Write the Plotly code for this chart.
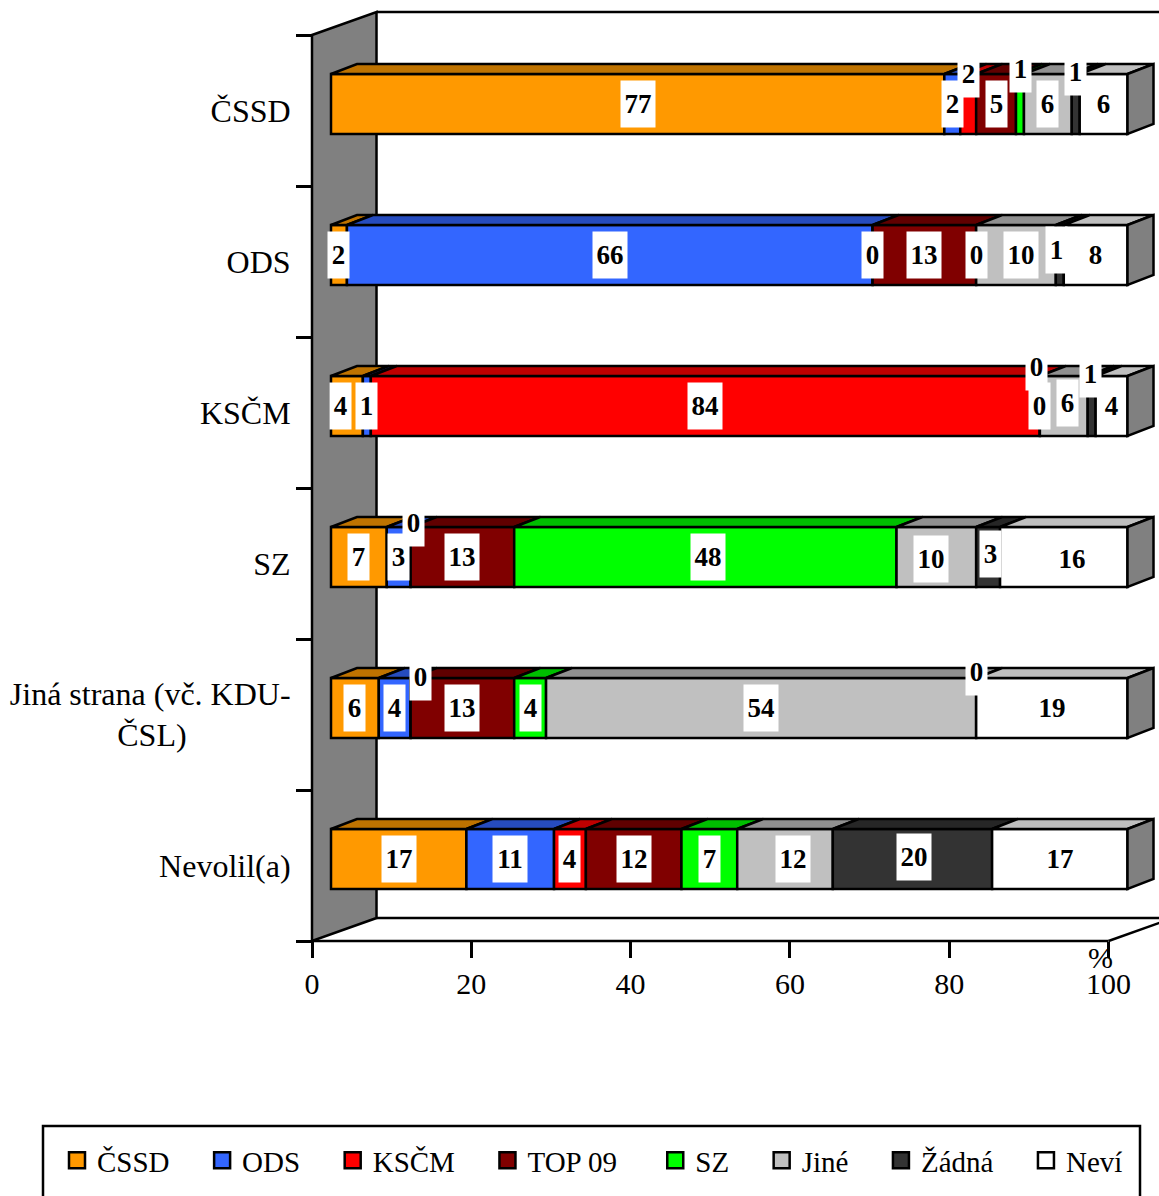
import plotly.graph_objects as go

categories = ["ČSSD", "ODS", "KSČM", "SZ", "Jiná strana (vč. KDU-<br>ČSL)" + "\u00a0" * 13, "Nevolil(a)"]
series_names = ["ČSSD", "ODS", "KSČM", "TOP 09", "SZ", "Jiné", "Žádná", "Neví"]

cssd = [77, 2, 4, 7, 6, 17]
ods = [2, 66, 1, 3, 4, 11]
kscm = [2, 0, 84, 0, 0, 4]
top09 = [5, 13, 0, 13, 13, 12]
sz = [1, 0, 0, 48, 4, 7]
jine = [6, 10, 6, 10, 54, 12]
zadna = [1, 1, 1, 3, 0, 20]
nevi = [6, 8, 4, 16, 19, 17]
series_values = [cssd, ods, kscm, top09, sz, jine, zadna, nevi]

front_colors = ["#FF9900", "#3366FF", "#FF0000", "#800000", "#00FF00", "#C0C0C0", "#333333", "#FFFFFF"]
top_colors = ["#BF7300", "#264CBF", "#BF0000", "#600000", "#00BF00", "#909090", "#262626", "#BFBFBF"]
WALL = "#808080"

# chart geometry (pixels of the 1159x1196 page)
W, H = 1159, 1196
PX_X0, PX_Y_TOP, PX_Y_BOT = 312, 35, 941
PX_PER_UNIT = 7.965
PX_PER_BAND = (PX_Y_BOT - PX_Y_TOP) / 6
n_rows = len(categories)
LW = 2.5


def ux(px):
    return px / PX_PER_UNIT


def uy(px):
    return px / PX_PER_BAND


BAR_SHIFT = ux(19)            # front plane of bars vs the axis plane
BAR_OFFSET, BAR_WIDTH = -0.242, 0.397
DEPTH_X, DEPTH_Y = ux(26), uy(10)
WALL_X, WALL_Y = ux(64.5), uy(23)

# labels that are moved off their segment centre, (row, series): (dx, dy) pixels, dy up
label_nudge = {
    (0, 2): (0, 30), (0, 4): (1, 35), (0, 6): (0, 32),
    (1, 5): (5, 0), (1, 6): (-3, 5),
    (2, 0): (-6, 0), (2, 3): (-3, 39), (2, 5): (4, 3), (2, 6): (-1, 32),
    (3, 2): (3, 34), (3, 4): (3, 0), (3, 6): (2, 3), (3, 5): (-5, -2), (3, 7): (8, -2),
    (4, 2): (10, 31), (4, 6): (0, 36),
    (5, 5): (8, 0), (5, 6): (2, 2),
}

fig = go.Figure()
annotations = []
label_font = dict(family="Liberation Serif", size=27, color="#000000")

# running starts of every segment
starts = []
running = [0] * n_rows
for values in series_values:
    starts.append(list(running))
    running = [r + v for r, v in zip(running, values)]

for s, (name, values) in enumerate(zip(series_names, series_values)):
    base = [b + BAR_SHIFT for b in starts[s]]
    fig.add_trace(go.Bar(
        orientation="h", y=[i + 0.5 for i in range(n_rows)], x=values, base=base,
        offset=BAR_OFFSET, width=BAR_WIDTH, showlegend=False, hoverinfo="skip",
        marker=dict(color=front_colors[s], line=dict(color="#000000", width=LW)),
    ))

for s, (name, values) in enumerate(zip(series_names, series_values)):
    xs, ys = [], []
    for i, v in enumerate(values):
        if v <= 0:
            continue
        a = starts[s][i] + BAR_SHIFT
        b = a + v
        top = i + 0.5 + BAR_OFFSET
        xs += [a, b, b + DEPTH_X, a + DEPTH_X, a, None]
        ys += [top, top, top - DEPTH_Y, top - DEPTH_Y, top, None]
    fig.add_trace(go.Scatter(
        x=xs, y=ys, mode="lines", fill="toself", fillcolor=top_colors[s],
        line=dict(color="#000000", width=LW), showlegend=False, hoverinfo="skip",
    ))

# right end faces
xs, ys = [], []
for i in range(n_rows):
    e = starts[-1][i] + nevi[i] + BAR_SHIFT
    top = i + 0.5 + BAR_OFFSET
    bot = top + BAR_WIDTH
    xs += [e, e + DEPTH_X, e + DEPTH_X, e, e, None]
    ys += [top, top - DEPTH_Y, bot - DEPTH_Y, bot, top, None]
fig.add_trace(go.Scatter(
    x=xs, y=ys, mode="lines", fill="toself", fillcolor=WALL,
    line=dict(color="#000000", width=LW), showlegend=False, hoverinfo="skip",
))

# legend entries
pad = "\u00a0\u00a0\u2009\u00a0"
for s, name in enumerate(series_names):
    extra = "\u2009" if s == 3 else ""
    fig.add_trace(go.Scatter(
        x=[None], y=[None], mode="markers", name=name + (pad + extra if s < 7 else ""),
        marker=dict(symbol="square", size=21, color=front_colors[s],
                    line=dict(color="#000000", width=2.5)),
    ))

# data labels
for s, values in enumerate(series_values):
    for i, v in enumerate(values):
        dx, dy = label_nudge.get((i, s), (0, 0))
        annotations.append(dict(
            x=starts[s][i] + BAR_SHIFT + v / 2, y=i + 0.5 + BAR_OFFSET + BAR_WIDTH / 2,
            xref="x", yref="y", text=f"<b>{v}</b>", showarrow=False, font=label_font,
            bgcolor="#FFFFFF", width=21 if v < 10 else 34, height=46, borderpad=0,
            xshift=dx, yshift=dy, xanchor="center", yanchor="middle",
        ))

annotations.append(dict(
    x=100, y=6, xref="x", yref="y", text="%", showarrow=False,
    font=dict(family="Liberation Serif", size=30, color="#000000"),
    xshift=-8, yshift=-16,
))

x_right = ux(W - PX_X0)
y_above = -uy(PX_Y_TOP)
line = dict(color="#000000", width=LW)
shapes = [
    # side wall
    dict(type="path", layer="below", xref="x", yref="y", fillcolor=WALL, line=line,
         path=f"M0,0 L{WALL_X},{-WALL_Y} L{WALL_X},{6 - WALL_Y} L0,6 Z"),
    # back top edge, floor back edge, front floor edge and right floor edge
    dict(type="line", layer="below", xref="x", yref="y", x0=WALL_X, y0=-WALL_Y, x1=x_right, y1=-WALL_Y, line=line),
    dict(type="line", layer="below", xref="x", yref="y", x0=WALL_X, y0=6 - WALL_Y, x1=x_right, y1=6 - WALL_Y, line=line),
    dict(type="line", layer="below", xref="x", yref="y", x0=0, y0=6, x1=100, y1=6, line=line),
    dict(type="line", layer="below", xref="x", yref="y", x0=100, y0=6, x1=100 + WALL_X, y1=6 - WALL_Y, line=line),
    # legend frame
    dict(type="rect", xref="paper", yref="paper", x0=43 / W, x1=1140 / W,
         y0=-0.01, y1=1 - 1126 / H, line=line),
]

fig.update_layout(
    width=W, height=H, margin=dict(l=0, r=0, t=0, b=0, autoexpand=False),
    paper_bgcolor="#FFFFFF", plot_bgcolor="rgba(0,0,0,0)",
    barmode="overlay", annotations=annotations, shapes=shapes,
    font=dict(family="Liberation Serif", size=30, color="#000000"),
    showlegend=True,
    legend=dict(orientation="h", x=57 / W, xanchor="left", y=1 - 1135 / H, yanchor="top",
                font=dict(family="Liberation Serif", size=29, color="#000000"),
                bgcolor="rgba(0,0,0,0)", borderwidth=0, itemsizing="trace"),
    xaxis=dict(
        domain=[300 / W, 1], range=[-ux(12), x_right], anchor="free",
        position=1 - PX_Y_BOT / H, showgrid=False, zeroline=False, showline=False,
        tickmode="array", tickvals=[0, 20, 40, 60, 80, 100],
        ticks="outside", ticklen=16, tickwidth=LW, tickcolor="#000000",
    ),
    yaxis=dict(
        domain=[1 - 945 / H, 1], range=[6 + uy(4), y_above], anchor="free",
        position=PX_X0 / W, showgrid=False, zeroline=False, showline=False,
        tickmode="array", tickvals=[i + 0.5 for i in range(n_rows)], ticktext=categories,
        tickfont=dict(family="Liberation Serif", size=32, color="#000000"),
        ticks="outside", ticklen=15, tickwidth=1, tickcolor="rgba(0,0,0,0)",
        minor=dict(tickmode="array", tickvals=list(range(7)), ticks="outside",
                   ticklen=16, tickwidth=LW, tickcolor="#000000", showgrid=False),
    ),
)

fig.write_html("out.html", config={"displayModeBar": False},
               post_script="document.body.style.margin='0';document.documentElement.style.overflow='hidden';")
